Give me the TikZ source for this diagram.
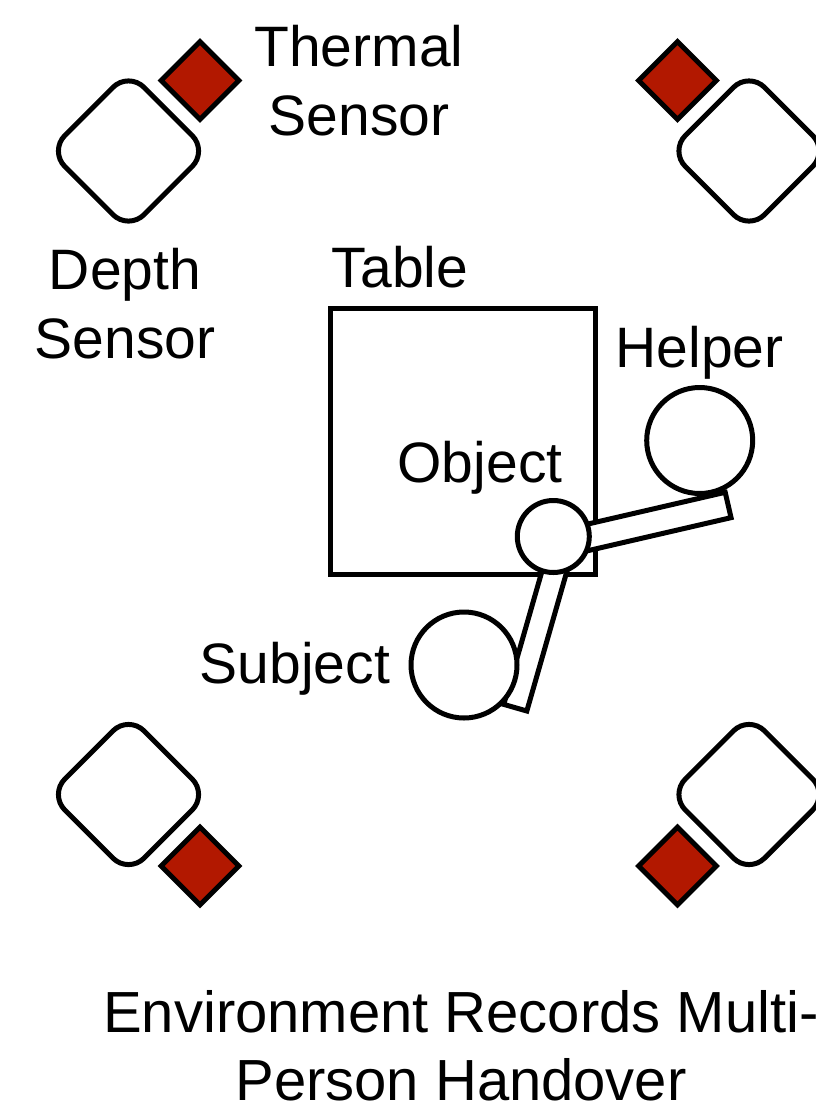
\documentclass[tikz,border=0pt]{standalone}
\usepackage{fontspec}
\setmainfont{Liberation Sans}
\usetikzlibrary{calc}
\definecolor{thermred}{RGB}{178,24,0}
\begin{document}
\begin{tikzpicture}[x=1pt,y=-1pt,
  line width=5pt,
  lbl/.style={font=\fontsize{57}{69}\selectfont, align=center, inner sep=0pt, anchor=base},
  depthbox/.style={draw, rounded corners=22pt, fill=white, minimum width=112pt, minimum height=112pt, rotate=45, inner sep=0pt},
  thermbox/.style={draw, fill=thermred, minimum width=55pt, minimum height=55pt, rotate=45, inner sep=0pt},
  person/.style={draw, fill=white, circle, minimum size=106pt, inner sep=0pt},
  objcirc/.style={draw, fill=white, circle, minimum size=72pt, inner sep=0pt},
  arm/.style={draw, fill=white, rectangle, inner sep=0pt},
]
\useasboundingbox (0,0) rectangle (816,1103);
% table
\node[draw, rectangle, minimum width=264.5pt, minimum height=266pt, inner sep=0pt] (table) at (462.75,441) {};
% arms
\node[arm, minimum width=170pt, minimum height=26pt, rotate=13] (harm) at (645.3,524.1) {};
\node[arm, minimum width=168pt, minimum height=24pt, rotate=74] (sarm) at (538.45,626.95) {};
% persons and object
\node[objcirc] (obj) at (553.3,536.5) {};
\node[person] (helper) at (699.7,440.5) {};
\node[person] (subject) at (464,665) {};
% sensors
\node[depthbox] (dTL) at (128.5,151) {};
\node[depthbox] (dTR) at (749,151) {};
\node[depthbox] (dBL) at (128.5,794.5) {};
\node[depthbox] (dBR) at (749,794.5) {};
\node[thermbox] (tTL) at (200,80.5) {};
\node[thermbox] (tTR) at (677.5,80.5) {};
\node[thermbox] (tBL) at (200,866) {};
\node[thermbox] (tBR) at (677.5,866) {};
% labels (base anchor = baseline of last line)
\node[lbl] (thermlbl) at (359,135) {Thermal\\Sensor};
\node[lbl] (depthlbl) at (125,358) {Depth\\Sensor};
\node[lbl] (tablelbl) at (400,287) {Table};
\node[lbl] (helperlbl) at (699.5,367) {Helper};
\node[lbl] (objlbl) at (480,482) {Object};
\node[lbl] (subjlbl) at (295,683) {Subject};
\node[lbl, font=\fontsize{58}{68}\selectfont] (title) at (461,1100) {Environment Records Multi-\\Person Handover};
\end{tikzpicture}
\end{document}
